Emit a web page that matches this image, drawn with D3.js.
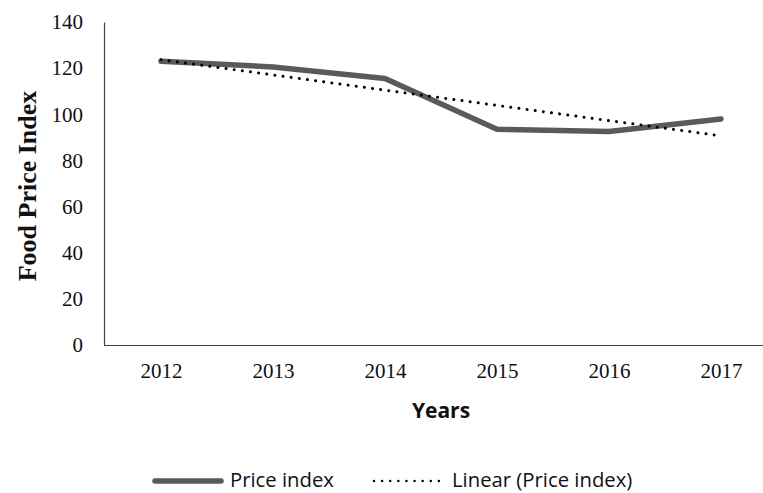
<!DOCTYPE html>
<html>
<head>
<meta charset="utf-8">
<script src="https://cdnjs.cloudflare.com/ajax/libs/d3/7.8.5/d3.min.js"></script>
<style>
  body { margin: 0; background: #fff; }
  svg { display: block; }
</style>
</head>
<body>
<div id="chart"></div>
<script>
// data
var years = ["2012", "2013", "2014", "2015", "2016", "2017"];
var priceIndex = [123, 120.5, 115.5, 93.5, 92.5, 98];
var yTicks = [0, 20, 40, 60, 80, 100, 120, 140];

var width = 763, height = 493;

var svg = d3.select("#chart").append("svg")
    .attr("width", width)
    .attr("height", height);

var x = d3.scalePoint()
    .domain(years)
    .range([161, 721]);

var y = d3.scaleLinear()
    .domain([0, 140])
    .range([345, 22]);

// linear trend (least squares over category index)
var n = priceIndex.length;
var mx = d3.mean(d3.range(n)), my = d3.mean(priceIndex);
var sxy = d3.sum(priceIndex, function(v, i) { return (i - mx) * (v - my); });
var sxx = d3.sum(d3.range(n), function(i) { return (i - mx) * (i - mx); });
var slope = sxy / sxx, icpt = my - slope * mx;
var trend = years.map(function(d, i) { return icpt + slope * i; });

// y axis
var yAxis = svg.append("g")
    .attr("transform", "translate(104,0)")
    .call(d3.axisLeft(y).tickValues(yTicks).tickSize(0).tickPadding(21));
yAxis.select(".domain").attr("stroke", "#444").attr("stroke-width", 1.2);
yAxis.selectAll("text")
    .attr("font-family", "'Liberation Serif', 'Times New Roman', serif")
    .attr("font-size", 21)
    .attr("fill", "#111");

// x axis
var xAxis = svg.append("g")
    .attr("transform", "translate(0,345)")
    .call(d3.axisBottom(x).tickSize(0).tickPadding(18));
xAxis.select(".domain").attr("d", "M104,0.5H777").attr("stroke", "#444").attr("stroke-width", 1.2);
xAxis.selectAll("text")
    .attr("font-family", "'Liberation Serif', 'Times New Roman', serif")
    .attr("font-size", 21)
    .attr("fill", "#111");

var line = d3.line()
    .x(function(d, i) { return x(years[i]); })
    .y(function(d) { return y(d); });

svg.append("path")
    .datum(priceIndex)
    .attr("d", line)
    .attr("fill", "none")
    .attr("stroke", "#5a5a5a")
    .attr("stroke-width", 5.5)
    .attr("stroke-linecap", "round")
    .attr("stroke-linejoin", "round");

svg.append("path")
    .datum(trend)
    .attr("d", line)
    .attr("fill", "none")
    .attr("stroke", "#000")
    .attr("stroke-width", 3)
    .attr("stroke-linecap", "round")
    .attr("stroke-dasharray", "0.01,8.2");

// axis titles
svg.append("text")
    .attr("transform", "translate(36,186) rotate(-90)")
    .attr("text-anchor", "middle")
    .attr("font-family", "'Liberation Serif', 'Times New Roman', serif")
    .attr("font-weight", "bold")
    .attr("font-size", 26)
    .attr("fill", "#111")
    .text("Food Price Index");

svg.append("text")
    .attr("x", 441)
    .attr("y", 418)
    .attr("text-anchor", "middle")
    .attr("font-family", "'Open Sans', sans-serif")
    .attr("font-weight", "bold")
    .attr("font-size", 21)
    .attr("fill", "#111")
    .text("Years");

// legend
var legend = svg.append("g").attr("transform", "translate(0,481)");
legend.append("line")
    .attr("x1", 155).attr("x2", 221)
    .attr("stroke", "#5a5a5a").attr("stroke-width", 5.5).attr("stroke-linecap", "round");
legend.append("text")
    .attr("x", 230).attr("y", 6)
    .attr("font-family", "'Open Sans', sans-serif")
    .attr("font-size", 20.3)
    .attr("fill", "#111")
    .text("Price index");
legend.append("line")
    .attr("x1", 374).attr("x2", 439)
    .attr("stroke", "#000").attr("stroke-width", 2.5)
    .attr("stroke-linecap", "round").attr("stroke-dasharray", "0.01,8.1");
legend.append("text")
    .attr("x", 452).attr("y", 6)
    .attr("font-family", "'Open Sans', sans-serif")
    .attr("font-size", 20.3)
    .attr("fill", "#111")
    .text("Linear (Price index)");
</script>
</body>
</html>
